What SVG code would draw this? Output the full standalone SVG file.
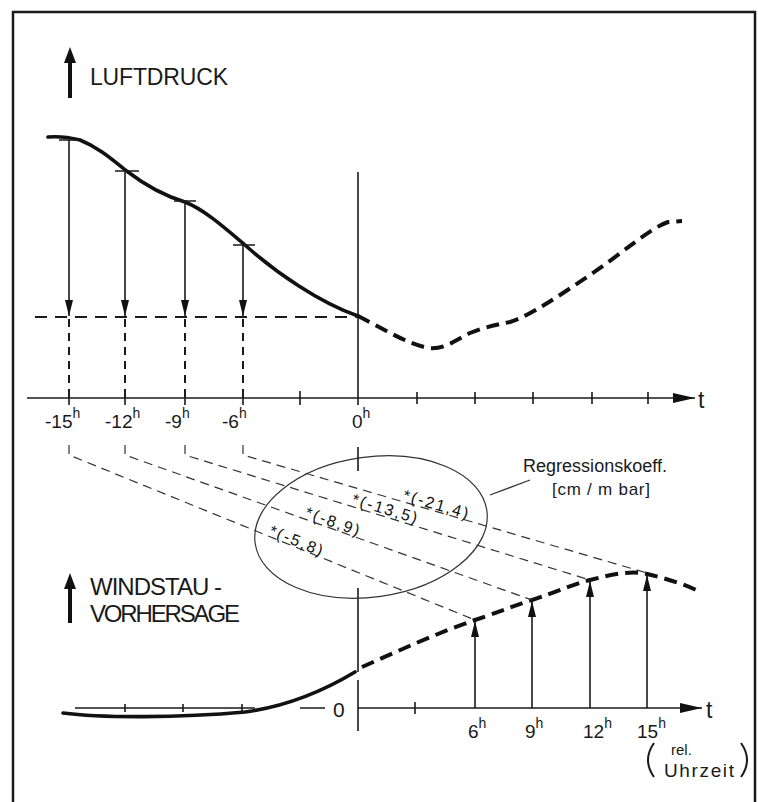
<svg xmlns="http://www.w3.org/2000/svg" width="758" height="802" viewBox="0 0 758 802">
<defs>
<style>
.txt{font-family:"Liberation Sans","DejaVu Sans",sans-serif;fill:#1a1a1a}
.thin{fill:none;stroke:#1a1a1a;stroke-width:1.6}
.slant{fill:none;stroke:#333;stroke-width:1.2;stroke-dasharray:9 6}
.solid{fill:none;stroke:#111;stroke-width:3.6;stroke-linecap:round}
.dash{fill:none;stroke:#111;stroke-width:4;stroke-dasharray:13 7}
.vdash{fill:none;stroke:#1a1a1a;stroke-width:2;stroke-dasharray:8 6}
.hdash{fill:none;stroke:#1a1a1a;stroke-width:1.8;stroke-dasharray:12 8}
.coef{font-family:"Liberation Sans","DejaVu Sans",sans-serif;fill:#111;font-size:16px;letter-spacing:2px}
</style>
<marker id="ah" viewBox="0 0 16 8" refX="16" refY="4" markerWidth="16" markerHeight="8" markerUnits="userSpaceOnUse" orient="auto">
<path d="M0,0 L16,4 L0,8 z" fill="#111"/>
</marker>
<marker id="axh" viewBox="0 0 22 10" refX="22" refY="5" markerWidth="22" markerHeight="10" markerUnits="userSpaceOnUse" orient="auto">
<path d="M0,0 L22,5 L0,10 z" fill="#111"/>
</marker>
</defs>
<rect width="758" height="802" fill="#fff"/>
<path d="M13,802 V12 H755 V802" fill="none" stroke="#1a1a1a" stroke-width="2.5"/>

<g id="title-luftdruck">
<path d="M68,98 V63 H64 L70,47 L76,63 H72 V98 z" fill="#111"/>
<text class="txt" x="90" y="85" font-size="23" textLength="138">LUFTDRUCK</text>
</g>

<g id="title-windstau">
<path d="M68,623 V589 H64 L70,573 L76,589 H72 V623 z" fill="#111"/>
<text class="txt" x="90" y="595" font-size="24" textLength="132">WINDSTAU -</text>
<text class="txt" x="90" y="622" font-size="24" textLength="150">VORHERSAGE</text>
</g>

<g id="top-axis">
<line class="thin" x1="27" y1="398" x2="695" y2="398" marker-end="url(#axh)"/>
<text class="txt" x="698" y="408" font-size="23">t</text>
<path class="thin" d="M69,391 V405 M125,391 V405 M185,391 V405 M243,391 V405 M300,391 V405 M417,392 V404 M475,392 V404 M533,392 V404 M592,392 V404 M648,392 V404"/>
<line class="thin" x1="358" y1="172" x2="358" y2="405"/>
<text class="txt" x="45" y="428" font-size="19">-15<tspan dy="-10" font-size="14">h</tspan></text>
<text class="txt" x="105" y="428" font-size="19">-12<tspan dy="-10" font-size="14">h</tspan></text>
<text class="txt" x="165" y="428" font-size="19">-9<tspan dy="-10" font-size="14">h</tspan></text>
<text class="txt" x="222" y="428" font-size="19">-6<tspan dy="-10" font-size="14">h</tspan></text>
<text class="txt" x="352" y="428" font-size="19">0<tspan dy="-10" font-size="14">h</tspan></text>
</g>

<g id="pressure-curve">
<path class="solid" d="M48,137 C60,136 72,138 80,140 C100,148 115,162 128,172 C145,185 165,196 185,202 C205,210 225,228 245,245 C275,272 320,303 358,316"/>
<path class="dash" d="M358,316 C380,327 405,343 428,348 C445,350 455,340 470,333 C485,327 495,325 510,322 C530,316 560,295 590,275 C620,255 650,228 668,222 L682,221"/>
<path class="thin" d="M59,140 H81 M115,171 H139 M174,201 H196 M233,245 H255"/>
</g>

<g id="wind-axis">
<path class="thin" d="M75,708 H255 M125,704 V712 M183,704 V712 M242,704 V712 M300,708 H325"/>
<text class="txt" x="333" y="717" font-size="21">0</text>
<line class="thin" x1="358" y1="708" x2="702" y2="708" marker-end="url(#axh)"/>
<text class="txt" x="706" y="718" font-size="23">t</text>
<path class="thin" d="M415,702 V714 M358,588 V672 M358,680 V731"/>
<text class="txt" x="468" y="738" font-size="19">6<tspan dy="-10" font-size="14">h</tspan></text>
<text class="txt" x="525" y="738" font-size="19">9<tspan dy="-10" font-size="14">h</tspan></text>
<text class="txt" x="583" y="738" font-size="19">12<tspan dy="-10" font-size="14">h</tspan></text>
<text class="txt" x="637" y="738" font-size="19">15<tspan dy="-10" font-size="14">h</tspan></text>
<path d="M654,743 Q642,760 654,777 M741,743 Q753,760 741,777" fill="none" stroke="#1a1a1a" stroke-width="2"/>
<text class="txt" x="671" y="755" font-size="15">rel.</text>
<text class="txt" x="664" y="777" font-size="19" textLength="70">Uhrzeit</text>
</g>

<g id="wind-curve">
<path class="solid" d="M63,713 C100,718 180,718 245,712 C290,706 325,690 355,672"/>
<path class="dash" d="M362,667 C400,650 440,632 475,620 S510,607 532,600 S570,585 590,580 S630,570 647,574 S685,584 700,592"/>
</g>

<g id="ellipse-note">
<ellipse cx="371" cy="527" rx="117" ry="70" transform="rotate(-8 371 527)" fill="none" stroke="#333" stroke-width="1.2"/>
<line class="thin" x1="358" y1="447" x2="358" y2="471"/>
<line x1="490" y1="495" x2="530" y2="480" stroke="#333" stroke-width="1.2"/>
<text class="txt" x="523" y="472" font-size="18" textLength="144">Regressionskoeff.</text>
<text class="txt" x="552" y="495" font-size="17" textLength="98">[cm / m bar]</text>
</g>

<g id="connectors">
<path class="slant" d="M69,445 L69,455 L475,620"/>
<path class="slant" d="M125,445 L125,455 L532,600"/>
<path class="slant" d="M185,445 L185,455 L590,580"/>
<path class="slant" d="M243,445 L243,455 L647,573"/>
<line class="thin" x1="69" y1="140" x2="69" y2="316" marker-end="url(#ah)"/>
<line class="thin" x1="125" y1="171" x2="125" y2="316" marker-end="url(#ah)"/>
<line class="thin" x1="185" y1="202" x2="185" y2="316" marker-end="url(#ah)"/>
<line class="thin" x1="243" y1="245" x2="243" y2="316" marker-end="url(#ah)"/>
<line class="hdash" x1="35" y1="317" x2="358" y2="317"/>
<path class="vdash" d="M69,319 V398 M125,319 V398 M185,319 V398 M243,319 V398"/>
<line class="thin" x1="475" y1="708" x2="475" y2="621" marker-end="url(#ah)"/>
<line class="thin" x1="532" y1="708" x2="532" y2="601" marker-end="url(#ah)"/>
<line class="thin" x1="590" y1="708" x2="590" y2="581" marker-end="url(#ah)"/>
<line class="thin" x1="647" y1="708" x2="647" y2="575" marker-end="url(#ah)"/>
</g>

<g id="coefficients">
<text class="coef" transform="translate(402,500) rotate(16.3)">*(-21,4)</text>
<text class="coef" transform="translate(351,504) rotate(16.9)">*(-13,5)</text>
<text class="coef" transform="translate(304,517) rotate(19.6)">*(-8,9)</text>
<text class="coef" transform="translate(268,535) rotate(22.1)">*(-5,8)</text>
</g>
</svg>
